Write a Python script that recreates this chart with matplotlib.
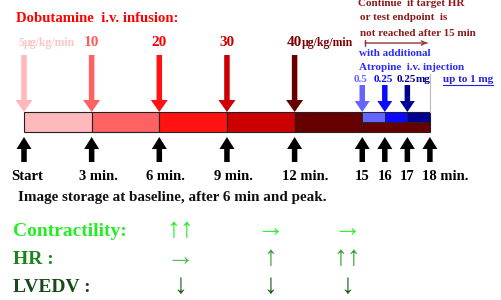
import matplotlib
matplotlib.use("Agg")
import matplotlib.pyplot as plt
from matplotlib.patches import Rectangle

# ---------------- data ----------------
tick_times = [0, 3, 6, 9, 12, 15, 16, 17, 18]
tick_labels = ["Start", "3 min.", "6 min.", "9 min.", "12 min.", "15", "16", "17", "18 min."]

stage_start = [0, 3, 6, 9, 12]
stage_end = [3, 6, 9, 12, 18]
stage_dose = ["5", "10", "20", "30", "40"]
stage_unit = ["µg/kg/min", "", "", "", "µg/kg/min"]
stage_colors = ["#FFB8BC", "#FF6262", "#FF1212", "#CC0000", "#660000"]
stage_label_colors = ["#FFC4C4", "#FF5A5A", "#FF0000", "#C80000", "#7A0000"]

atropine_start = [15, 16, 17]
atropine_end = [16, 17, 18]
atropine_dose = ["0.5", "0.25", "0.25"]
atropine_colors = ["#6464FF", "#0A0AFF", "#000090"]

effect_names = ["Contractility:", "HR :", "LVEDV :"]
effect_name_colors = ["#22EE22", "#1E821E", "#174A17"]
effect_symbols = [["↑↑", "→", "→"],
                  ["→", "↑", "↑↑"],
                  ["↓", "↓", "↓"]]
effect_symbol_colors = [["#22EE22", "#33EE33", "#33EE33"],
                        ["#55BB55", "#33A033", "#33A033"],
                        ["#1E5A1E", "#1E5A1E", "#1E5A1E"]]

# ---------------- layout ----------------
W, H = 502, 300
PX_PER_MIN = 22.55
X0 = 24  # pixel of t=0
fig = plt.figure(figsize=(W / 100, H / 100), dpi=100)
ax = fig.add_axes([0, 0, 1, 1])
ax.set_xlim(-X0 / PX_PER_MIN, (W - X0) / PX_PER_MIN)
ax.set_ylim(H, 0)
ax.axis("off")

def px(w):  # pixel width -> minutes
    return w / PX_PER_MIN

SERIF = ["Liberation Serif", "DejaVu Serif"]
SYM = ["Liberation Serif", "DejaVu Sans"]

bar_top, bar_bot, bar_mid = 112, 132, 122

# stage segments
for s, e, c in zip(stage_start, stage_end, stage_colors):
    if s == 12:
        ax.add_patch(Rectangle((s, bar_top), 15 - s, bar_bot - bar_top, fc=c, ec="#222222", lw=0.8))
        ax.add_patch(Rectangle((15, bar_top), e - 15, bar_bot - bar_top, fc=c, ec="#222222", lw=0.8))
    else:
        ax.add_patch(Rectangle((s, bar_top), e - s, bar_bot - bar_top, fc=c, ec="#222222", lw=0.8))
for s, e, c in zip(atropine_start, atropine_end, atropine_colors):
    ax.add_patch(Rectangle((s, bar_top), e - s, bar_mid - bar_top, fc=c, ec="#222222", lw=0.6))

# dobutamine down arrows and labels
for s, d, u, c, lc in zip(stage_start, stage_dose, stage_unit, stage_colors, stage_label_colors):
    ax.arrow(s, 55, 0, bar_top - 55, width=px(5.5), head_width=px(17), head_length=12,
             length_includes_head=True, fc=c, ec="none")
    fs = 8.5 if s == 0 else 11
    off = -3 if s == 0 else 0
    t = ax.annotate(d, (s, 43), xytext=(off, 0), textcoords="offset pixels",
                    ha="center", va="center", fontsize=fs, fontweight="bold", color=lc, family=SERIF)
    if u:
        ax.annotate(u, xy=(1, 0.5), xycoords=t, ha="left", va="center", fontsize=8.5,
                    fontweight="bold", color=lc, family=SERIF)

# atropine arrows and labels
for s, d, c in zip(atropine_start, atropine_dose, atropine_colors):
    ax.arrow(s, 85, 0, bar_top - 85, width=px(5.5), head_width=px(15), head_length=11,
             length_includes_head=True, fc=c, ec="none")
    t = ax.text(s - px(1.5), 80, d, ha="center", va="center", fontsize=8, fontweight="bold",
                color=c, family=SERIF)
    if s == 17:
        ax.annotate("mg", xy=(1, 0.5), xycoords=t, ha="left", va="center", fontsize=8,
                    fontweight="bold", color=c, family=SERIF)

# black up arrows and time labels
for tt, lab in zip(tick_times, tick_labels):
    ax.arrow(tt, 162, 0, 137 - 162, width=px(5.5), head_width=px(15), head_length=12,
             length_includes_head=True, fc="black", ec="none")
    if "min" in lab:
        off = -8 if tt == 18 else -13
        ax.annotate(lab, (tt, 177), xytext=(off, 0), textcoords="offset pixels", ha="left",
                    va="center", fontsize=10.5, fontweight="bold", color="black", family=SERIF)
    else:
        off = 3 if tt == 0 else 0
        ax.annotate(lab, (tt, 177), xytext=(off, 0), textcoords="offset pixels", ha="center",
                    va="center", fontsize=10.5, fontweight="bold", color="black", family=SERIF)

# gray end line
ax.plot([18, 18], [74, bar_top], color="#BBBBBB", lw=0.8)

# texts
ax.text(px(16 - X0), 18, "Dobutamine  i.v. infusion:", ha="left", va="center", fontsize=10.6,
        fontweight="bold", color="#FF0000", family=SERIF)
cont = ["Continue  if target HR", "or test endpoint  is", "not reached after 15 min"]
for i, (line, y) in enumerate(zip(cont, [4, 18, 33])):
    ax.text(px(358 - X0) + (px(2) if i else 0), y, line, ha="left", va="center", fontsize=8,
            fontweight="bold", color="#8B1A1A", family=SERIF)
ax.annotate("", xy=(18, 43), xytext=(15, 43),
            arrowprops=dict(arrowstyle="|-|,widthA=0.2,widthB=0.0", color="#993333", lw=1))
ax.annotate("", xy=(18, 43), xytext=(17.6, 43),
            arrowprops=dict(arrowstyle="->,head_length=0.3,head_width=0.15", color="#993333", lw=1))
ax.text(px(359 - X0), 53, "with additional", ha="left", va="center", fontsize=8,
        fontweight="bold", color="#2A2AFF", family=SERIF)
ax.text(px(359 - X0), 67, "Atropine  i.v. injection", ha="left", va="center", fontsize=8,
        fontweight="bold", color="#2A2AFF", family=SERIF)
up = ax.text(px(443 - X0), 80, "up to 1 mg", ha="left", va="center", fontsize=8,
             fontweight="bold", color="#2222DD", family=SERIF)
fig.canvas.draw()
bb = up.get_window_extent().transformed(ax.transData.inverted())
ax.plot([bb.x0, bb.x1], [85, 85], color="#2222DD", lw=0.8)

ax.text(px(18 - X0), 198, "Image storage at baseline, after 6 min and peak.", ha="left",
        va="center", fontsize=10.9, fontweight="bold", color="#111111", family=SERIF)

row_y = [232, 260, 288]
sym_y = [230, 259, 287]
col_x = [180, 270, 347]
for name, nc, syms, scs, y, sy in zip(effect_names, effect_name_colors, effect_symbols,
                                      effect_symbol_colors, row_y, sym_y):
    ax.text(px(13 - X0), y, name, ha="left", va="center", fontsize=14, fontweight="bold",
            color=nc, family=SERIF)
    for s, c, cx in zip(syms, scs, col_x):
        ax.text(px(cx - X0), sy, s, ha="center", va="center", fontsize=20,
                fontweight="bold", color=c, family=SYM)

fig.savefig("out.png", dpi=100)
